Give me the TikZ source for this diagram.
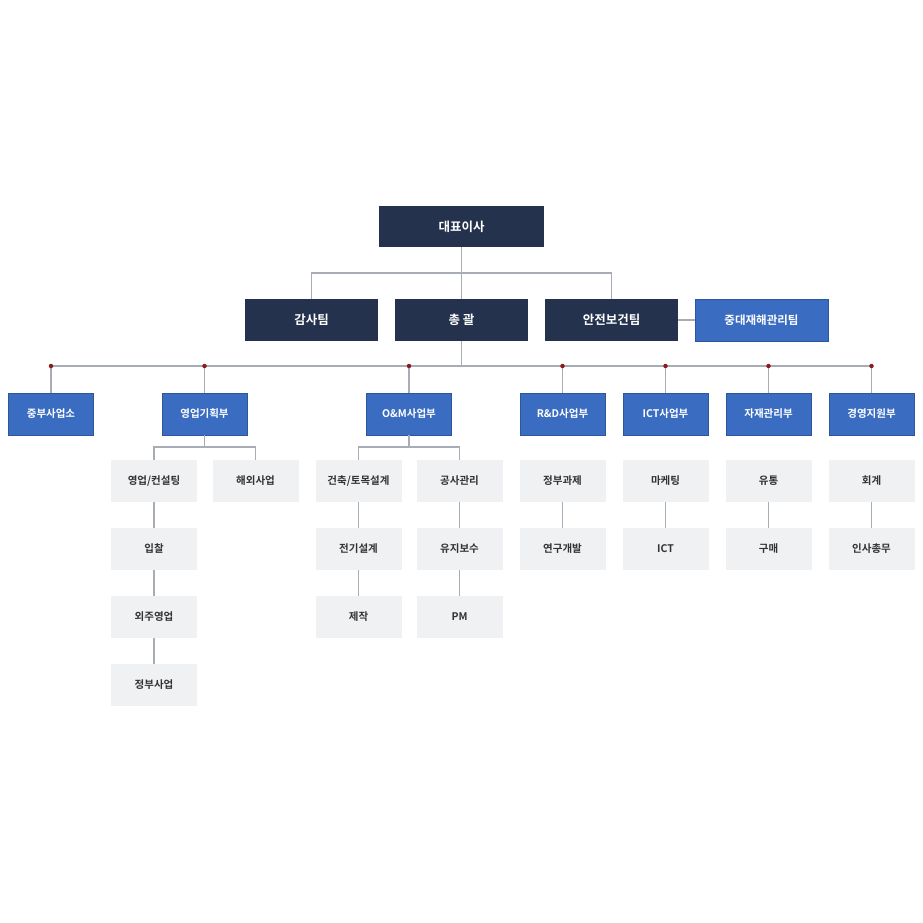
\documentclass[tikz,border=0pt]{standalone}
\usepackage{fontspec}
\setmainfont{Noto Sans CJK KR}[BoldFont={Noto Sans CJK KR Bold}]
\usepackage{xcolor}
\usetikzlibrary{positioning}
\usetikzlibrary{calc}
\definecolor{navy}{HTML}{25324D}
\definecolor{deptblue}{HTML}{3A6CC1}
\definecolor{cellgray}{HTML}{F0F1F3}
\definecolor{linegray}{HTML}{A8ACB4}
\definecolor{dotred}{HTML}{8B1A1A}
\definecolor{txtgray}{HTML}{333333}

\begin{document}
\begin{tikzpicture}
  [
    x=1pt, y=-1pt,
    top/.style={fill=navy, text=white, minimum width=133pt,
    minimum height=42pt, inner sep=0pt, font=\fontsize{12.5}{14}\selectfont\bfseries},
    dept/.style={fill=deptblue, draw=deptblue!80!black, line width=0.4pt, text=white,
    minimum width=85pt, minimum height=42pt, inner sep=0pt,
    font=\fontsize{10.5}{12}\selectfont\bfseries},
    cell/.style={fill=cellgray, text=txtgray, minimum width=86pt,
    minimum height=42pt, inner sep=0pt, font=\fontsize{10.5}{12}\selectfont\bfseries},
    ln/.style={draw=linegray, line width=1.2pt},
    dot/.style={circle, fill=dotred, inner sep=0pt, minimum size=4.5pt}
  ]
  \useasboundingbox (0,0) rectangle (923,923);

  % top level
  \node (ceo)   at (461.5,226.5) [top, minimum width=165pt, minimum height=41pt] {대표이사};
  \node (audit) at (311.5,320)   [top] {감사팀};
  \node (gen)   at (461.5,320)   [top] {총 괄};
  \node (safe)  at (611.5,320)   [top] {안전보건팀};
  \node (sevr)  at (761.5,320)   [top, fill=deptblue, draw=deptblue!80!black,
                                  font=\fontsize{11.5}{14}\selectfont\bfseries] {중대재해관리팀};

  % departments
  \node (d1) at ( 51.0,414) [dept] {중부사업소};
  \node (d2) at (204.5,414) [dept] {영업기획부};
  \node (d3) at (409.0,414) [dept] {O\&M사업부};
  \node (d4) at (562.5,414) [dept] {R\&D사업부};
  \node (d5) at (665.5,414) [dept] {ICT사업부};
  \node (d6) at (768.5,414) [dept] {자재관리부};
  \node (d7) at (871.5,414) [dept] {경영지원부};

  % teams
  \node (s21) at (154.0,481) [cell] {영업/컨설팅};
  \node (s22) at (154.0,549) [cell] {입찰};
  \node (s23) at (154.0,617) [cell] {외주영업};
  \node (s24) at (154.0,685) [cell] {정부사업};
  \node (s25) at (255.5,481) [cell] {해외사업};
  \node (s31) at (358.5,481) [cell] {건축/토목설계};
  \node (s32) at (358.5,549) [cell] {전기설계};
  \node (s33) at (358.5,617) [cell] {제작};
  \node (s34) at (459.5,481) [cell] {공사관리};
  \node (s35) at (459.5,549) [cell] {유지보수};
  \node (s36) at (459.5,617) [cell] {PM};
  \node (s41) at (562.5,481) [cell] {정부과제};
  \node (s42) at (562.5,549) [cell] {연구개발};
  \node (s51) at (665.5,481) [cell] {마케팅};
  \node (s52) at (665.5,549) [cell] {ICT};
  \node (s61) at (768.5,481) [cell] {유통};
  \node (s62) at (768.5,549) [cell] {구매};
  \node (s71) at (871.5,481) [cell] {회계};
  \node (s72) at (871.5,549) [cell] {인사총무};

  \coordinate (b1) at (461.5,273);
  \coordinate (b2) at (461.5,366);
  \coordinate (b3) at (204.5,447);
  \coordinate (b4) at (409.0,447);

  \draw [ln] (ceo.south) -- (gen.north);
  \draw [ln] (audit.north) |- (b1) -| (safe.north);
  \draw [ln] (safe.east) -- (sevr.west);
  \draw [ln] (gen.south) -- (b2);
  \draw [ln] (d1.north |- b2) -- (d7.north |- b2);
  \foreach \d in {d1,d2,d3,d4,d5,d6,d7}
    \draw [ln] (\d.north) -- (\d.north |- b2);

  \draw [ln] (d2.south) -- (b3);
  \draw [ln] (s21.north) |- (b3) -| (s25.north);
  \draw [ln] (d3.south) -- (b4);
  \draw [ln] (s31.north) |- (b4) -| (s34.north);

  \draw [ln] (s21) -- (s22);
  \draw [ln] (s22) -- (s23);
  \draw [ln] (s23) -- (s24);
  \draw [ln] (s31) -- (s32);
  \draw [ln] (s32) -- (s33);
  \draw [ln] (s34) -- (s35);
  \draw [ln] (s35) -- (s36);
  \draw [ln] (s41) -- (s42);
  \draw [ln] (s51) -- (s52);
  \draw [ln] (s61) -- (s62);
  \draw [ln] (s71) -- (s72);

  \foreach \d in {d1,d2,d3,d4,d5,d6,d7}
    \node [dot] at (\d.north |- b2) {};
\end{tikzpicture}
\end{document}
